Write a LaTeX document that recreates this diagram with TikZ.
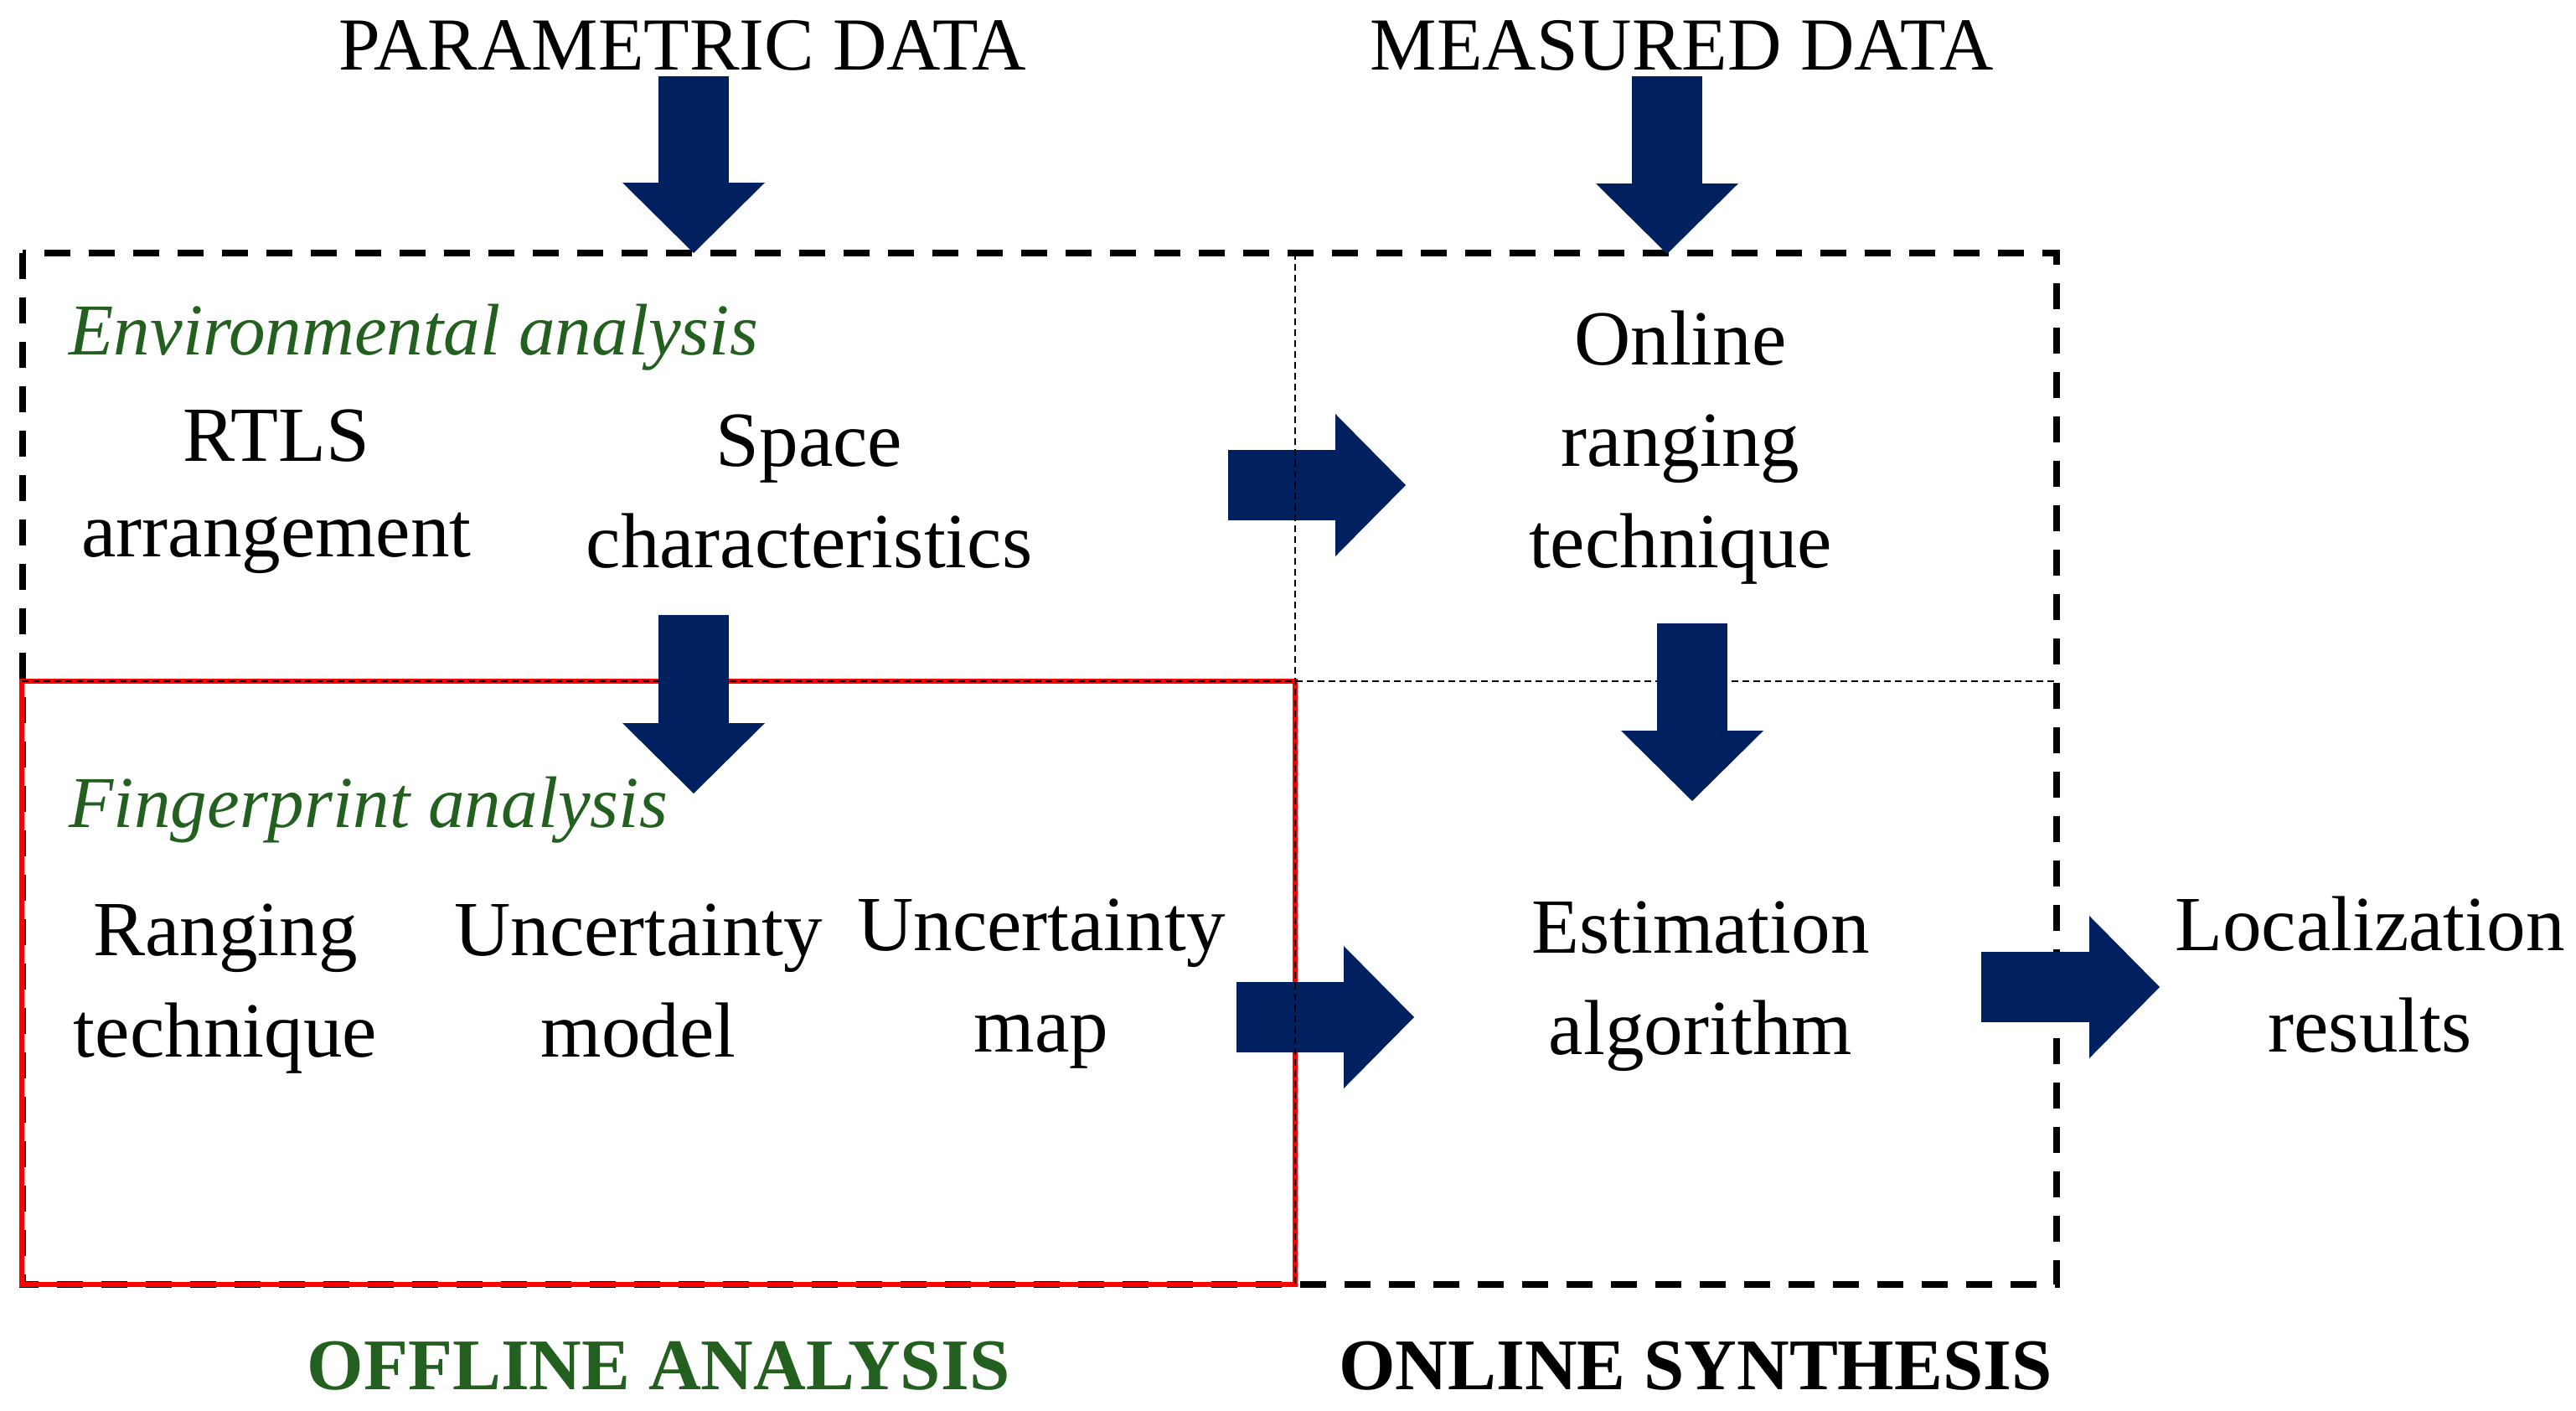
\documentclass[tikz,border=0pt]{standalone}
\usepackage{fontspec}
\setmainfont{Liberation Serif}
\usetikzlibrary{arrows.meta}
\definecolor{navy}{RGB}{0,32,96}
\definecolor{dkgreen}{RGB}{35,95,30}
\begin{document}
\begin{tikzpicture}[line join=miter,
	txt/.style={align=center,anchor=base,inner sep=0pt,font=\fontsize{26.5}{34.4}\selectfont},
	datalbl/.style={anchor=base,inner sep=0pt,font=\fontsize{25.4}{30}\selectfont},
	lbl/.style={anchor=base west,inner sep=0pt,text=dkgreen,font=\fontsize{24.8}{30}\selectfont\itshape},
	head/.style={anchor=base,inner sep=0pt,font=\fontsize{24.7}{30}\selectfont\bfseries},
	bigarrow/.style={line width=0.84cm,color=navy,-{Triangle[width=1.7cm,length=0.84cm,line width=0pt]}},
	thindash/.style={line width=0.6pt,dash pattern=on 0.08cm off 0.05cm}]
\useasboundingbox (0,0) rectangle (30.75,-16.83);
\node[datalbl] (param) at (8.15,-0.84) {PARAMETRIC DATA};
\node[datalbl] (meas) at (20.08,-0.84) {MEASURED DATA};
\node[lbl] (envlbl) at (0.82,-4.23) {Environmental analysis};
\node[txt,font=\fontsize{26.5}{32.4}\selectfont] (rtls) at (3.30,-6.64) {RTLS\\arrangement};
\node[txt] (space) at (9.66,-6.77) {Space\\characteristics};
\node[txt] (online) at (20.06,-6.77) {Online\\ranging\\technique};
\node[lbl] (fplbl) at (0.82,-9.87) {Fingerprint analysis};
\node[txt] (rng) at (2.69,-12.61) {Ranging\\technique};
\node[txt] (umodel) at (7.62,-12.61) {Uncertainty\\model};
\node[txt] (umap) at (12.43,-12.55) {Uncertainty\\map};
\node[txt] (est) at (20.30,-12.58) {Estimation\\algorithm};
\node[txt] (loc) at (28.29,-12.55) {Localization\\results};
\node[head,text=dkgreen] (offline) at (7.86,-16.58) {OFFLINE ANALYSIS};
\node[head] (onsyn) at (20.24,-16.58) {ONLINE SYNTHESIS};
\coordinate (pa1) at (8.28,-0.91);
\coordinate (pa2) at (8.28,-3.02);
\coordinate (ma1) at (19.90,-0.91);
\coordinate (ma2) at (19.90,-3.03);
\coordinate (ea1) at (8.28,-7.34);
\coordinate (ea2) at (8.28,-9.47);
\coordinate (oa1) at (20.20,-7.44);
\coordinate (oa2) at (20.20,-9.56);
\coordinate (ra1) at (14.66,-5.79);
\coordinate (ra2) at (16.78,-5.79);
\coordinate (fa1) at (14.76,-12.14);
\coordinate (fa2) at (16.88,-12.14);
\coordinate (la1) at (23.65,-11.78);
\coordinate (la2) at (25.78,-11.78);
\draw[line width=0.08cm,dash pattern=on 0.31cm off 0.22cm] (0.27,-3.02) rectangle (24.55,-15.33);
\draw[red,line width=0.065cm] (0.26,-8.13) rectangle (15.46,-15.33);
\draw[thindash] (0.26,-8.13) -- (24.55,-8.13);
\draw[bigarrow] (pa1) -- (pa2);
\draw[bigarrow] (ma1) -- (ma2);
\draw[bigarrow] (ea1) -- (ea2);
\draw[bigarrow] (oa1) -- (oa2);
\draw[bigarrow] (ra1) -- (ra2);
\draw[bigarrow] (fa1) -- (fa2);
\draw[bigarrow] (la1) -- (la2);
\draw[thindash] (15.46,-3.02) -- (15.46,-15.33);
\end{tikzpicture}
\end{document}
